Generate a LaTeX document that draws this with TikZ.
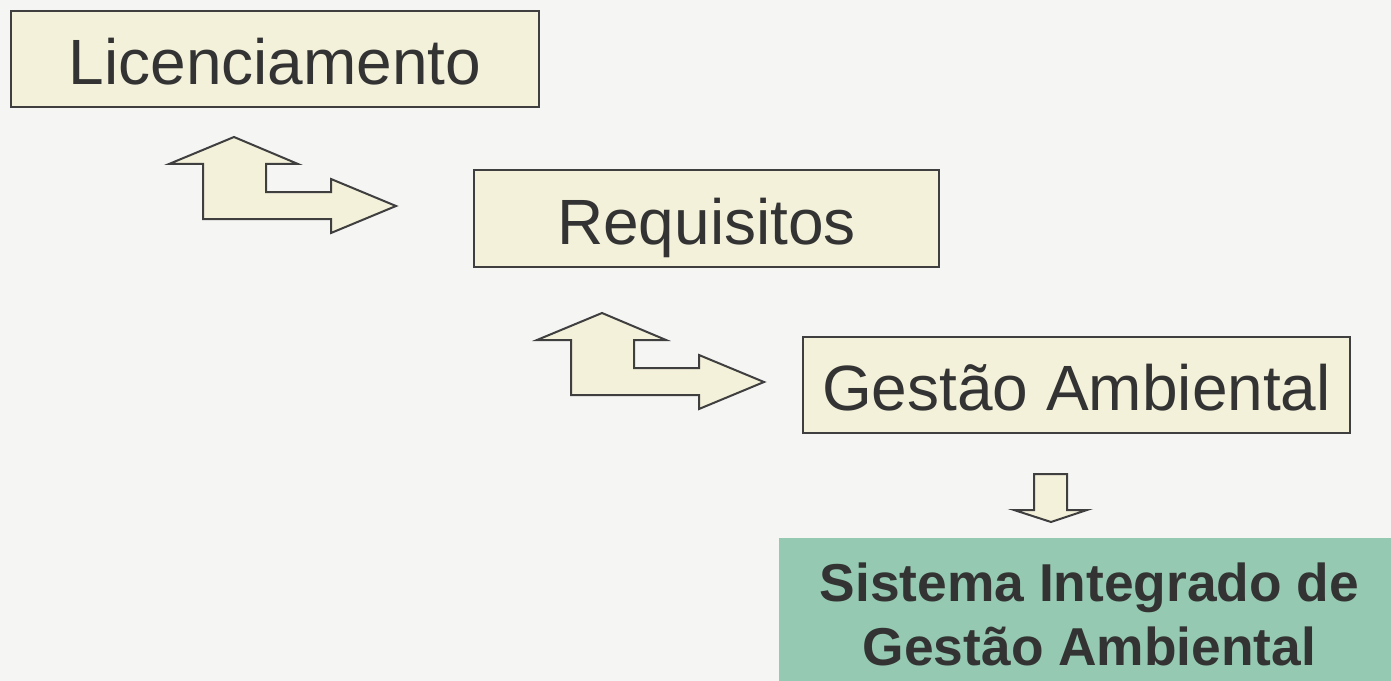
\documentclass[tikz,border=0pt]{standalone}
\usepackage{fontspec}
\setmainfont{Liberation Sans}
\definecolor{bgc}{HTML}{F5F5F4}
\definecolor{cream}{HTML}{F3F1DA}
\definecolor{edgec}{HTML}{3F3F3F}
\definecolor{txtc}{HTML}{333333}
\definecolor{greenc}{HTML}{95C9B1}
\begin{document}
\begin{tikzpicture}[x=0.75pt,y=-0.75pt,
  box/.style={draw=edgec,fill=cream,line width=1.5pt,inner sep=0pt,
    text=txtc,font=\fontsize{48}{58}\selectfont,text height=38.9pt,text depth=0pt},
  greenbox/.style={fill=greenc,inner sep=0pt,text=txtc,align=center,
    font=\fontsize{40}{48}\selectfont\bfseries},
  blockarrow/.style={draw=edgec,fill=cream,line width=1.5pt,line join=miter}]
\fill[bgc] (0,0) rectangle (1391,681);
\useasboundingbox (0,0) rectangle (1391,681);

\node[box,minimum width=396pt,minimum height=72pt] (lic) at (275,59) {Licenciamento};
\node[box,minimum width=348.75pt,minimum height=72.75pt] (req) at (706.5,218.5) {Requisitos};
\node[box,minimum width=410.25pt,minimum height=72pt] (gest) at (1076.5,385) {Gestão Ambiental};
\node[greenbox,minimum width=465.75pt,minimum height=114pt] (sig) at (1089.5,614) {Sistema Integrado de\\Gestão Ambiental};

% bent double-headed block arrows
\foreach \name/\ox/\oy in {a1/234/137, a2/602/313}{
  \draw[blockarrow,shift={(\ox,\oy)}] (0,0) -- (64,27) -- (32,27) -- (32,55) -- (97,55) -- (97,42)
    -- (162,69) -- (97,96) -- (97,82) -- (-31,82) -- (-31,27) -- (-65,27) -- cycle;
}
% down block arrow
\draw[blockarrow] (1034,474) -- (1067,474) -- (1067,510) -- (1087,510) -- (1051,522)
  -- (1014,510) -- (1034,510) -- cycle;
\end{tikzpicture}
\end{document}
